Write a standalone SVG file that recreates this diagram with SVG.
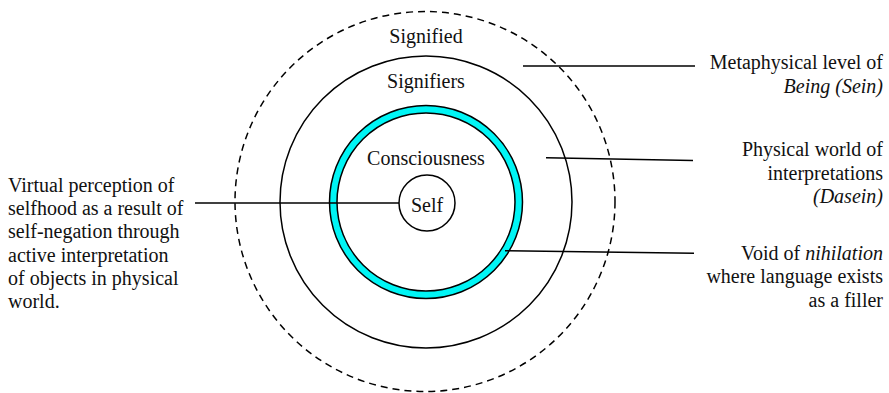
<svg xmlns="http://www.w3.org/2000/svg" width="889" height="393" viewBox="0 0 889 393">
<style>
text{font-size:20px;fill:#111}
.c{fill:none;stroke:#000;stroke-width:1.5}
.ln{stroke:#000;stroke-width:1.5;fill:none}
.r{text-anchor:end}
.m{text-anchor:middle}
.i{font-style:italic}
</style>
<rect width="889" height="393" fill="#fff"/>
<g font-family="Liberation Serif, DejaVu Serif, serif">
<g id="signified">
<circle class="c" cx="425" cy="201.5" r="190" stroke-dasharray="7 5"/>
<text class="m" x="426" y="42.5">Signified</text>
</g>
<g id="signifiers">
<circle class="c" cx="426" cy="202" r="146"/>
<text class="m" x="426" y="87.5">Signifiers</text>
</g>
<g id="consciousness">
<circle cx="426" cy="202" r="92.75" fill="none" stroke="#00f5f5" stroke-width="7.5"/>
<circle class="c" cx="426" cy="202" r="96.5"/>
<circle class="c" cx="426" cy="202" r="89"/>
<text class="m" x="426" y="164.5">Consciousness</text>
</g>
<g id="self">
<circle class="c" cx="427" cy="203" r="28"/>
<text class="m" x="427" y="211.7">Self</text>
</g>
<g id="connectors">
<line class="ln" x1="195" y1="203" x2="399" y2="203"/>
<line class="ln" x1="523" y1="66" x2="695" y2="66"/>
<line class="ln" x1="546" y1="157.7" x2="693" y2="160.5"/>
<line class="ln" x1="505" y1="250.7" x2="694" y2="253.3"/>
</g>
<g id="label-left">
<text x="8" y="191.7">Virtual perception of</text>
<text x="8" y="215">selfhood as a result of</text>
<text x="8" y="238.3">self-negation through</text>
<text x="8" y="261.6">active interpretation</text>
<text x="8" y="284.9">of objects in physical</text>
<text x="8" y="308.2">world.</text>
</g>
<g id="label-being">
<text class="r" x="883" y="69">Metaphysical level of</text>
<text class="r i" x="883" y="93.3">Being (Sein)</text>
</g>
<g id="label-dasein">
<text class="r" x="883" y="155.7">Physical world of</text>
<text class="r" x="883" y="180">interpretations</text>
<text class="r i" x="883" y="203.3">(Dasein)</text>
</g>
<g id="label-void">
<text class="r" x="883" y="260">Void of <tspan class="i">nihilation</tspan></text>
<text class="r" x="883" y="283.3">where language exists</text>
<text class="r" x="883" y="306.7">as a filler</text>
</g>
</g>
</svg>
